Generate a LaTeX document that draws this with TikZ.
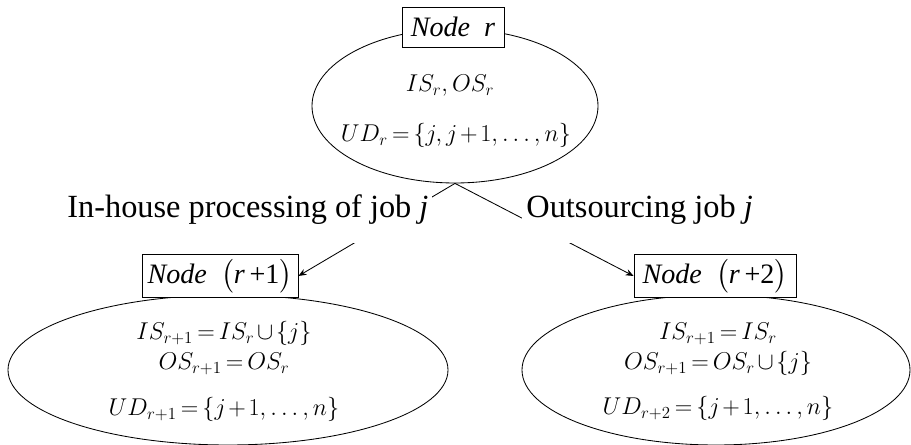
\documentclass[tikz,border=0pt]{standalone}
\usepackage{amsmath}
\usepackage{amssymb}
\usepackage{fontspec}
\setmainfont{Liberation Serif}
\usepackage{tikz}
\usetikzlibrary{
	arrows.meta,
	calc,
	shapes.geometric
}
\tikzset{every path/.append style={line width=0.6pt}}
\tikzset{every path/.append style={>={Stealth[length=2mm,width=1.6mm]}}}
\tikzset{
	stateEl/.style={ellipse,draw,inner sep=0pt},
	stateBox/.style={rectangle,draw,fill=white,inner sep=0.05cm,minimum height=1.075cm,font=\boxText},
	mathLine/.style={anchor=base,inner sep=0pt,font=\mathText},
	branchLbl/.style={fill=white,inner xsep=0.1cm,inner ysep=0pt,text height=0.625cm,text depth=0.625cm,anchor=base west,font=\bigText}
}
\newcommand{\bigText}{\fontsize{23}{27}\selectfont}
\newcommand{\boxText}{\fontsize{20}{24}\selectfont}
\newcommand{\mathText}{\fontsize{18.2}{22}\selectfont\medmuskip=2mu\thickmuskip=3mu}
\newcommand{\nodeTxt}[1]{\textit{Node}~~$\bigl($\textit{r}\,+#1$\bigr)$}
\newcommand{\tikzMath}[3]{\node (#2) at #1 [mathLine]{$#3$};}

\begin{document}
\begin{tikzpicture}
	\useasboundingbox (0,0) rectangle (22.775,11.125);

	% ellipses
	\node (rootEl) at (11.375,8.475) [stateEl,minimum width=7.15cm,minimum height=3.85cm]{};
	\node (inEl) at (5.7,1.875) [stateEl,minimum width=11cm,minimum height=3.75cm]{};
	\node (outEl) at (17.9,1.875) [stateEl,minimum width=9.7cm,minimum height=3.75cm]{};

	\tikzMath{(11.25,8.825)}{rootIS}{IS_r,OS_r}
	\tikzMath{(11.4,7.575)}{rootUD}{UD_r=\{j,j+1,\ldots,n\}}

	\tikzMath{(5.6,2.625)}{inIS}{IS_{r+1}=IS_r\cup\{j\}}
	\tikzMath{(5.6,1.875)}{inOS}{OS_{r+1}=OS_r}
	\tikzMath{(5.6,0.725)}{inUD}{UD_{r+1}=\{j+1,\ldots,n\}}

	\tikzMath{(17.95,2.625)}{outIS}{IS_{r+1}=IS_r}
	\tikzMath{(17.95,1.875)}{outOS}{OS_{r+1}=OS_r\cup\{j\}}
	\tikzMath{(17.95,0.75)}{outUD}{UD_{r+2}=\{j+1,\ldots,n\}}

	% node boxes
	\node (rootBox) at (11.325,10.45) [stateBox,minimum width=2.55cm,minimum height=1cm]{\textit{Node}~~\textit{r}};
	\node (inBox) at (5.5,4.225) [stateBox,minimum width=3.9cm]{\nodeTxt{1}};
	\node (outBox) at (17.875,4.225) [stateBox,minimum width=4.05cm]{\nodeTxt{2}};

	% branches
	\draw[->] (rootEl.south) -- (inBox.east);
	\draw[->] (rootEl.south) -- (outBox.west);

	\node (inLbl) at (1.575,5.675) [branchLbl]{In-house processing of job \textit{j}};
	\node (outLbl) at (13.05,5.675) [branchLbl]{Outsourcing job \textit{j}};
\end{tikzpicture}
\end{document}
